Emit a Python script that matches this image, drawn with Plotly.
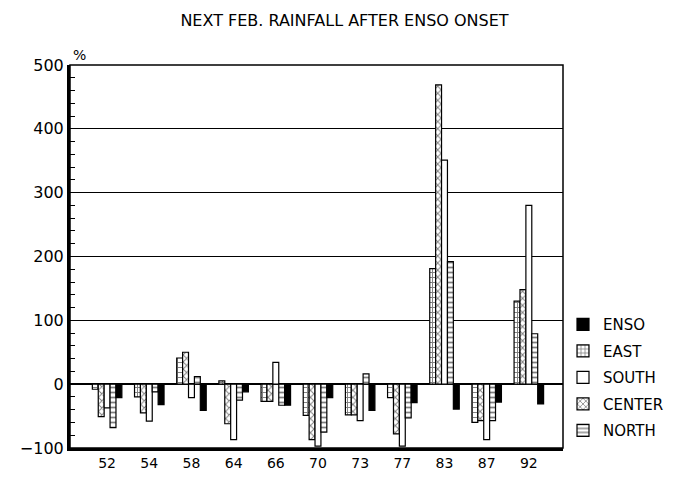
import plotly.graph_objects as go

years = ["52", "54", "58", "64", "66", "70", "73", "77", "83", "87", "92"]
east = [-8, -20, 41, 5, -27, -49, -48, -21, 181, -60, 130]
center = [-51, -45, 50, -62, -27, -87, -48, -78, 469, -57, 148]
south = [-37, -58, -21, -87, 34, -97, -57, -97, 351, -87, 280]
north = [-68, -12, 12, -25, -33, -75, 16, -53, 192, -57, 79]
enso = [-21, -32, -41, -12, -33, -21, -41, -29, -39, -28, -31]

series = [
    ("EAST", east, "white", "+", 2),
    ("CENTER", center, "white", "x", 4),
    ("SOUTH", south, "white", "", 3),
    ("NORTH", north, "white", "-", 5),
    ("ENSO", enso, "black", "", 1),
]

fig = go.Figure()
for name, vals, col, shape, rank in series:
    fig.add_trace(go.Bar(
        x=years, y=vals, name=name, legendrank=rank, legendgroup=name,
        marker=dict(color=col, line=dict(color="black", width=1.2),
                    pattern=dict(shape=shape, fgcolor="black", size=5, solidity=0.35)),
    ))

fig.update_layout(
    width=673, height=479,
    margin=dict(l=62, r=108, t=57, b=39),
    paper_bgcolor="white", plot_bgcolor="white",
    barmode="group", bargap=0.3, bargroupgap=0,
    font=dict(family="DejaVu Sans", color="black"),
    title=dict(text="NEXT FEB. RAINFALL AFTER ENSO ONSET", x=0.5, xanchor="center",
               y=0.985, yanchor="top", font=dict(size=16)),
    showlegend=True,
    legend=dict(x=1.0, xanchor="left", y=0.365, yanchor="top",
                traceorder="grouped", tracegroupgap=4,
                font=dict(size=15), bgcolor="rgba(0,0,0,0)", itemwidth=30),
    xaxis=dict(type="category", range=[-0.88, 10.81], showgrid=False,
               showline=True, linecolor="black", linewidth=3, mirror=False,
               ticks="", tickfont=dict(size=14)),
    yaxis=dict(range=[-100, 500], dtick=100, showgrid=True, gridcolor="black",
               gridwidth=1, zeroline=True, zerolinecolor="black", zerolinewidth=1.5,
               showline=True, linecolor="black", linewidth=3, mirror=False,
               ticks="inside", ticklen=6, tickcolor="black",
               minor=dict(dtick=20, ticks="inside", ticklen=5, tickcolor="black", showgrid=False),
               tickfont=dict(size=16)),
    shapes=[dict(type="rect", xref="paper", yref="paper", x0=0, y0=0, x1=1, y1=1,
                 line=dict(color="black", width=1.5))],
    annotations=[dict(text="%", xref="paper", yref="paper", x=0.02, y=1.0,
                      xanchor="center", yanchor="bottom", showarrow=False,
                      font=dict(size=14))],
)

fig.write_html("out.html")
